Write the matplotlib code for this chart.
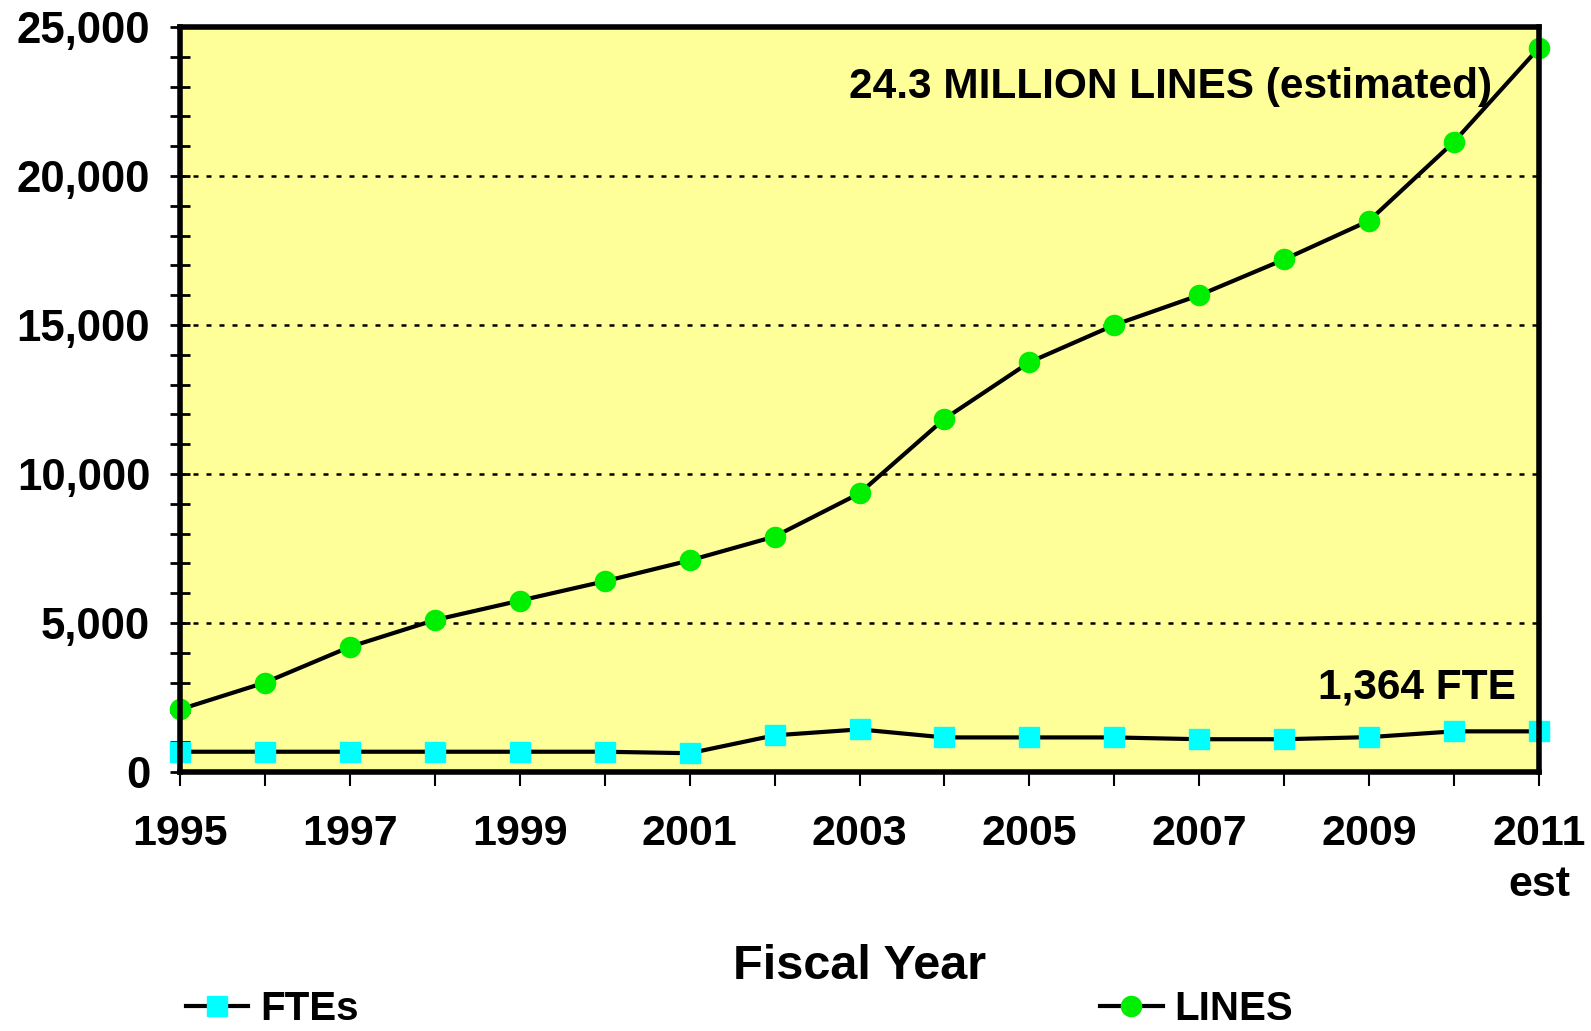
import matplotlib
matplotlib.use("Agg")
import matplotlib.pyplot as plt
from matplotlib.ticker import MultipleLocator, FuncFormatter

plt.rcParams['font.family'] = ['Liberation Sans', 'DejaVu Sans']
plt.rcParams['font.weight'] = 'bold'

years = list(range(1995, 2012))
lines_k = [2100, 3000, 4200, 5100, 5750, 6400, 7100, 7900, 9350, 11850,
           13750, 15000, 16000, 17200, 18500, 21150, 24300]
ftes = [680, 680, 680, 680, 680, 680, 630, 1230, 1430, 1160,
        1160, 1160, 1100, 1100, 1170, 1364, 1364]
xtick_years = list(range(1995, 2012, 2))
xtick_labels = ['1995', '1997', '1999', '2001', '2003', '2005', '2007', '2009', '2011\nest']

fig = plt.figure(figsize=(15.91, 10.31), dpi=100)
ax = fig.add_axes([180 / 1591, 1 - 772 / 1031, 1359 / 1591, 745 / 1031])
ax.set_facecolor('#FFFF99')

# dotted grid every 5,000
for y in range(5000, 25000, 5000):
    ax.axhline(y, color='black', lw=1.8, ls=(0, (2, 3.2)), zorder=1)

ax.plot(years, ftes, color='black', lw=3, marker='s', ms=15,
        mfc='#00FFFF', mec='#00FFFF', label='FTEs', clip_on=False, zorder=3)
ax.plot(years, lines_k, color='black', lw=3, marker='o', ms=14.5,
        mfc='#00EE00', mec='#00EE00', label='LINES', clip_on=False, zorder=3)

ax.set_xlim(1995, 2011)
ax.set_ylim(0, 25000)

for s in ax.spines.values():
    s.set_linewidth(4)
    s.set_zorder(4)

ax.yaxis.set_major_locator(MultipleLocator(5000))
ax.yaxis.set_minor_locator(MultipleLocator(1000))
ax.yaxis.set_major_formatter(FuncFormatter(lambda v, p: f'{int(v):,}'))
ax.tick_params(axis='y', which='both', direction='inout', length=15, width=2,
               labelsize=31.5, pad=14)
ax.set_xticks(years, minor=True)
ax.set_xticks(xtick_years)
ax.set_xticklabels(xtick_labels)
ax.tick_params(axis='x', which='both', direction='out', length=10, width=1.5,
               labelsize=31, pad=20)
for t in ax.get_xticklabels():
    t.set_linespacing(1.38)

ax.set_xlabel('Fiscal Year', fontsize=35, fontweight='bold', labelpad=28)

ax.text(2010.45, 23000, '24.3 MILLION LINES (estimated)', fontsize=30.5,
        fontweight='bold', ha='right', va='center')
ax.text(2010.73, 2850, '1,364 FTE', fontsize=30.5, fontweight='bold',
        ha='right', va='center')

fig.legend(loc='center left', bbox_to_anchor=(186 / 1591, 1 - 1009 / 1031),
           ncol=2, frameon=False, fontsize=29, handlelength=1.55,
           handletextpad=0.3, columnspacing=18.4, borderpad=0, borderaxespad=0,
           numpoints=1, markerscale=1.0)

fig.savefig('out.png', dpi=100)
